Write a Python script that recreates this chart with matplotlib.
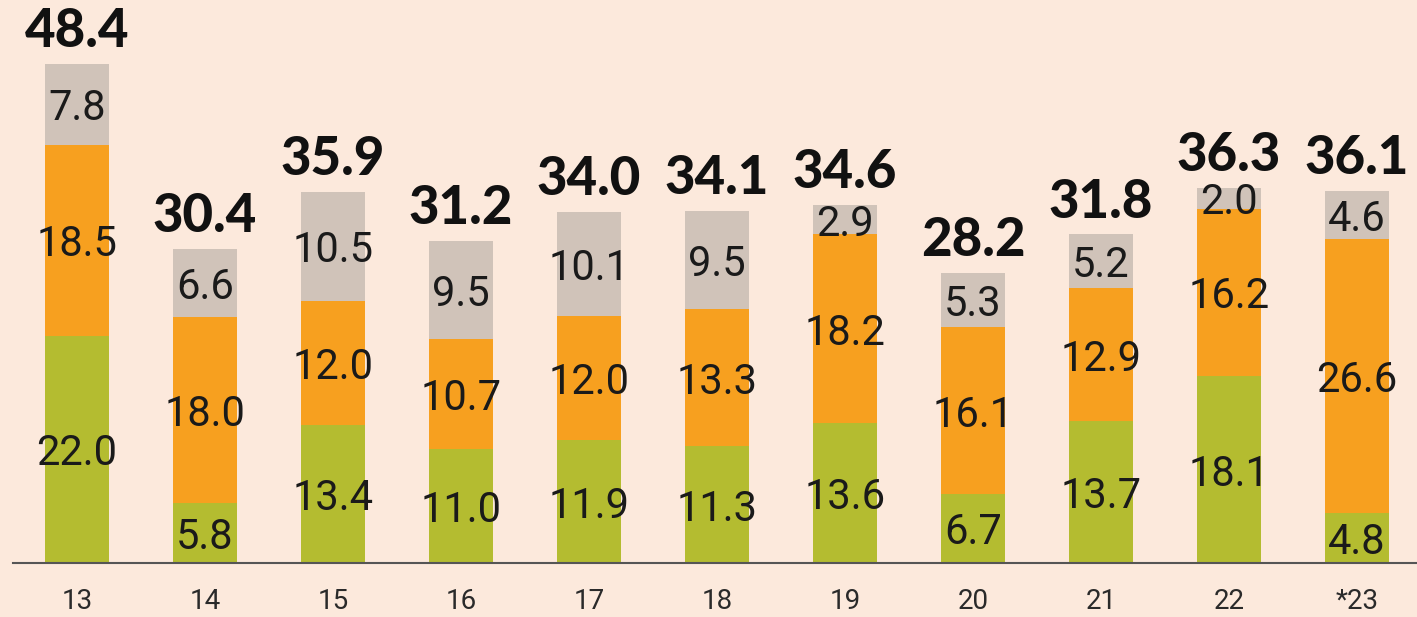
import matplotlib.pyplot as plt
import numpy as np

years = ['13', '14', '15', '16', '17', '18', '19', '20', '21', '22', '*23']
green = [22.0, 5.8, 13.4, 11.0, 11.9, 11.3, 13.6, 6.7, 13.7, 18.1, 4.8]
orange = [18.5, 18.0, 12.0, 10.7, 12.0, 13.3, 18.2, 16.1, 12.9, 16.2, 26.6]
grey = [7.8, 6.6, 10.5, 9.5, 10.1, 9.5, 2.9, 5.3, 5.2, 2.0, 4.6]
totals = [48.4, 30.4, 35.9, 31.2, 34.0, 34.1, 34.6, 28.2, 31.8, 36.3, 36.1]

bg = '#fce9dc'
c_green = '#b4bc30'
c_orange = '#f7a01f'
c_grey = '#d0c3b9'

fig = plt.figure(figsize=(14.17, 6.17), dpi=100, facecolor=bg)
ax = fig.add_axes([13 / 1417, 54 / 617, 1404 / 1417, 563 / 617])
ax.set_facecolor(bg)

x = np.arange(len(years))
w = 0.5
g = np.array(green)
o = np.array(orange)
r = np.array(grey)

ax.bar(x, g, w, color=c_green)
ax.bar(x, o, w, bottom=g, color=c_orange)
ax.bar(x, r, w, bottom=g + o, color=c_grey)

seg_font = dict(family='Roboto', weight='normal', fontsize=30, color='#1a1a1a')
for i in range(len(years)):
    ax.text(x[i], g[i] / 2, f'{green[i]:.1f}', ha='center', va='center_baseline', **seg_font)
    ax.text(x[i], g[i] + o[i] / 2, f'{orange[i]:.1f}', ha='center', va='center_baseline', **seg_font)
    ax.text(x[i], g[i] + o[i] + r[i] / 2, f'{grey[i]:.1f}', ha='center', va='center_baseline', **seg_font)
    ax.annotate(f'{totals[i]:.1f}', (x[i], g[i] + o[i] + r[i]), xytext=(0, 12),
                textcoords='offset points', ha='center', va='baseline',
                family='Lato', weight='black', fontsize=38, color='#111111')

ax.set_xlim(-0.5, 10.47)
ax.set_ylim(0, 54.5)
ax.set_yticks([])
ax.set_xticks(x)
ax.set_xticklabels(years, family='Roboto', weight='normal', fontsize=20, color='#2a2a2a')
ax.tick_params(axis='x', length=0, pad=18)
for s in ['top', 'right', 'left']:
    ax.spines[s].set_visible(False)
ax.spines['bottom'].set_color('#555555')
ax.spines['bottom'].set_linewidth(1.5)

fig.savefig('out.png', dpi=100, facecolor=bg)
